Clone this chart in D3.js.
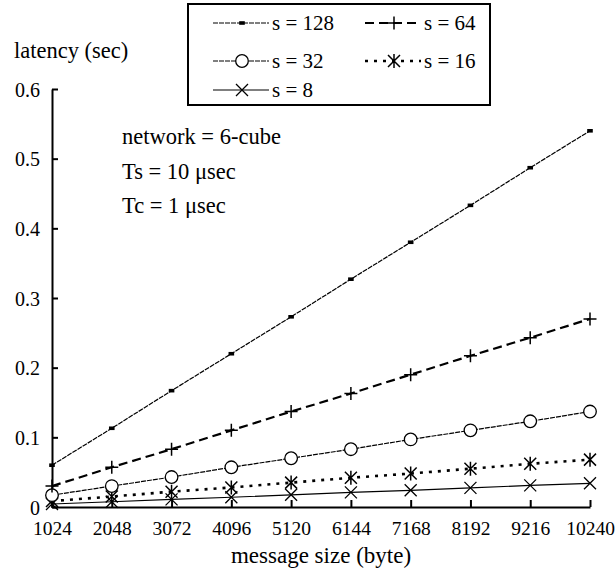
<!DOCTYPE html>
<html>
<head>
<meta charset="utf-8">
<script src="https://cdn.jsdelivr.net/npm/d3@7"></script>
<style>
  body { margin: 0; background: #fff; }
  text { font-family: "Liberation Serif", "Times New Roman", serif; fill: #000; }
</style>
</head>
<body>
<div id="chart"></div>
<script>
// message sizes (byte) along the x axis
const sizes = [1024, 2048, 3072, 4096, 5120, 6144, 7168, 8192, 9216, 10240];

// latency (sec) for each s value
const s128 = [0.060, 0.113, 0.167, 0.220, 0.273, 0.327, 0.380, 0.433, 0.487, 0.540];
const s64  = [0.030, 0.057, 0.083, 0.110, 0.137, 0.163, 0.190, 0.217, 0.243, 0.270];
const s32  = [0.017, 0.030, 0.043, 0.057, 0.070, 0.083, 0.097, 0.110, 0.123, 0.137];
const s16  = [0.0085, 0.015, 0.022, 0.028, 0.035, 0.042, 0.048, 0.055, 0.062, 0.068];
const s8   = [0.0043, 0.0075, 0.011, 0.014, 0.0175, 0.021, 0.024, 0.0275, 0.031, 0.034];

const yTicks = [0, 0.1, 0.2, 0.3, 0.4, 0.5, 0.6];
const notes = ["network = 6-cube", "Ts = 10 \u03bcsec", "Tc = 1 \u03bcsec"];

const svgWidth = 615;
const svgHeight = 571;
const margin = { top: 89, right: 25, bottom: 64, left: 52 };
const width = svgWidth - margin.left - margin.right;
const height = svgHeight - margin.top - margin.bottom;

const svg = d3.select("#chart")
  .append("svg")
  .attr("width", svgWidth)
  .attr("height", svgHeight);

const chartGroup = svg.append("g")
  .attr("transform", `translate(${margin.left}, ${margin.top})`);

const x = d3.scalePoint().domain(sizes).range([0, width]);
const y = d3.scaleLinear().domain([0, 0.6]).range([height, 0]);

// series styles
const series = [
  { name: "s = 128", values: s128, width: 1.2, dash: "5,1", marker: "dot" },
  { name: "s = 64",  values: s64,  width: 2.2, dash: "9,5", marker: "plus" },
  { name: "s = 32",  values: s32,  width: 1.2, dash: "5,1", marker: "circle" },
  { name: "s = 16",  values: s16,  width: 2.6, dash: "3,6", marker: "star" },
  { name: "s = 8",   values: s8,   width: 1.2, dash: null, marker: "cross" }
];

// axes
const xAxis = d3.axisBottom(x).tickSizeInner(-7).tickSizeOuter(0).tickPadding(14);
const yAxis = d3.axisLeft(y).tickValues(yTicks).tickSizeInner(-6).tickSizeOuter(0).tickPadding(12)
  .tickFormat(d => d === 0 ? "0" : d.toFixed(1));

const gx = chartGroup.append("g")
  .attr("transform", `translate(0, ${height})`)
  .call(xAxis);
const gy = chartGroup.append("g").call(yAxis);

[gx, gy].forEach(g => {
  g.selectAll("path, line").attr("stroke", "#000").attr("stroke-width", 2);
});
gx.selectAll("text").style("font-size", "19.5px");
gy.selectAll("text").style("font-size", "20px").attr("dy", "0.35em");

// marker drawing
function drawMarker(g, type, cx, cy) {
  if (type === "dot") {
    g.append("rect").attr("x", cx - 2.8).attr("y", cy - 1.8).attr("width", 5.6).attr("height", 3.6).attr("fill", "#000");
  } else if (type === "plus") {
    g.append("path").attr("d", `M${cx - 6.5},${cy}H${cx + 6.5}M${cx},${cy - 6.5}V${cy + 6.5}`)
      .attr("stroke", "#000").attr("stroke-width", 1.5);
  } else if (type === "circle") {
    g.append("circle").attr("cx", cx).attr("cy", cy).attr("r", 6.3)
      .attr("fill", "#fff").attr("stroke", "#000").attr("stroke-width", 1.3);
  } else if (type === "star") {
    const r = 6;
    g.append("path")
      .attr("d", `M${cx},${cy - r - 1}V${cy + r + 1}M${cx - r},${cy - r}L${cx + r},${cy + r}M${cx - r},${cy + r}L${cx + r},${cy - r}`)
      .attr("stroke", "#000").attr("stroke-width", 1.5);
  } else if (type === "cross") {
    const r = 6;
    g.append("path")
      .attr("d", `M${cx - r},${cy - r}L${cx + r},${cy + r}M${cx - r},${cy + r}L${cx + r},${cy - r}`)
      .attr("stroke", "#000").attr("stroke-width", 1.3);
  }
}

const line = d3.line().x((d, i) => x(sizes[i])).y(d => y(d));

// draw lines, then markers
series.slice().reverse().forEach(s => {
  chartGroup.append("path")
    .datum(s.values)
    .attr("d", line)
    .attr("fill", "none")
    .attr("stroke", "#000")
    .attr("stroke-width", s.width)
    .attr("stroke-dasharray", s.dash);
  const mg = chartGroup.append("g");
  s.values.forEach((v, i) => drawMarker(mg, s.marker, x(sizes[i]), y(v)));
});

// axis titles
svg.append("text")
  .attr("x", 14).attr("y", 58)
  .style("font-size", "22.5px")
  .text("latency (sec)");

svg.append("text")
  .attr("x", 321).attr("y", 563)
  .attr("text-anchor", "middle")
  .style("font-size", "23px")
  .text("message size (byte)");

// annotation block
svg.selectAll("text.note")
  .data(notes)
  .join("text")
  .attr("class", "note")
  .attr("x", 122)
  .attr("y", (d, i) => 144 + i * 34.5)
  .style("font-size", "22.5px")
  .text(d => d);

// legend
const legend = svg.append("g");
legend.append("rect")
  .attr("x", 188).attr("y", 4)
  .attr("width", 302).attr("height", 101)
  .attr("fill", "#fff").attr("stroke", "#000").attr("stroke-width", 2);

const legendPos = [
  { lx: 213, ly: 23 }, { lx: 365, ly: 23 },
  { lx: 213, ly: 61 }, { lx: 365, ly: 61 },
  { lx: 213, ly: 90 }
];
series.forEach((s, i) => {
  const p = legendPos[i];
  legend.append("path")
    .attr("d", `M${p.lx},${p.ly}H${p.lx + 56}`)
    .attr("stroke", "#000")
    .attr("stroke-width", s.width)
    .attr("stroke-dasharray", s.dash);
  drawMarker(legend, s.marker, p.lx + 29, p.ly);
  legend.append("text")
    .attr("x", p.lx + 59).attr("y", p.ly)
    .attr("dy", "0.33em")
    .style("font-size", "21px")
    .text(s.name);
});
</script>
</body>
</html>
